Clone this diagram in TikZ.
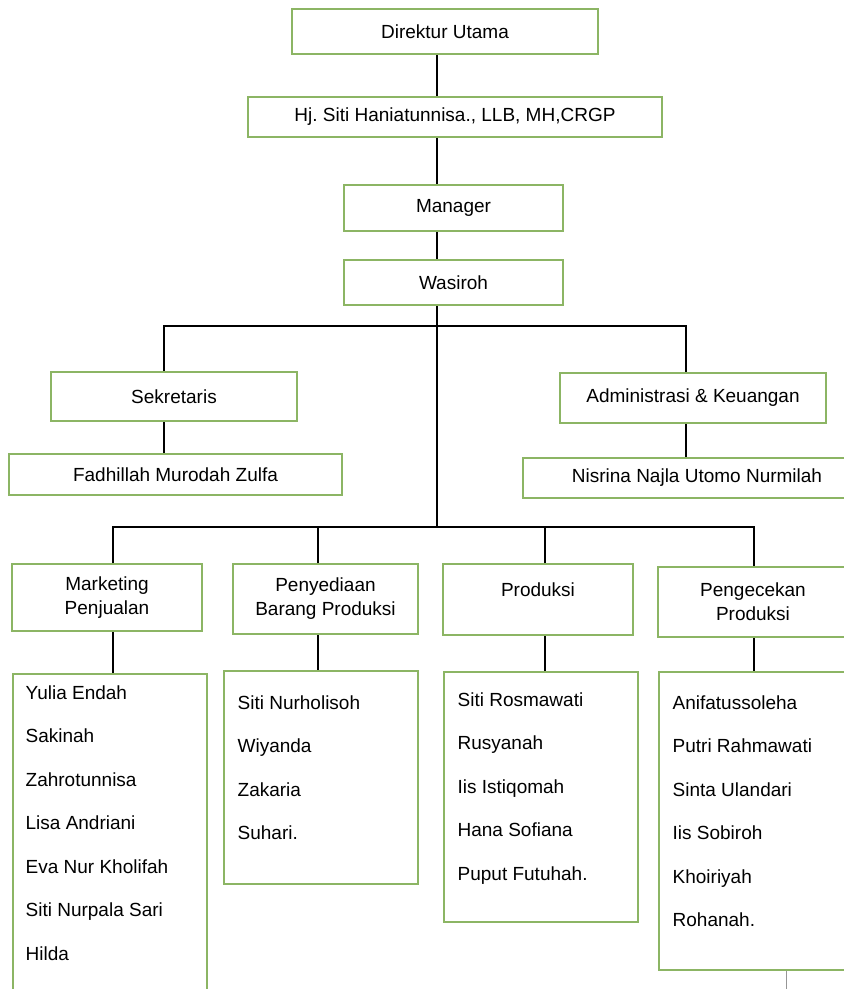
\documentclass[tikz,border=0pt]{standalone}
\usepackage{fontspec}
\setmainfont{Liberation Sans}
\frenchspacing
\definecolor{verde}{RGB}{140,181,100}
\definecolor{gris}{RGB}{150,150,150}

\begin{document}
\begin{tikzpicture}[   % opciones por defecto
      x=1pt, y=-1pt,     % un punto por pixel, y hacia abajo
      line width=1.3pt,  % conectores
      draw=black!100,
      font=\fontsize{19}{24}\selectfont
    ]
    \tikzstyle{box}=[draw=verde, line width=2pt, rectangle, inner sep=2pt, align=center];
    \tikzstyle{nama}=[anchor=base west, inner sep=0pt];
    \tikzset{sz/.style 2 args={minimum width=#1pt, minimum height=#2pt}}
    %
    \useasboundingbox (0,0) rectangle (844,989);
    \clip (0,0) rectangle (844,989);
    %
    % cadena de mando
    \node [box, sz={306}{45}] (dirut) at (445,31.5)  {Direktur Utama};
    \node [box, sz={414}{40}] (hj)    at (455,117)   {Hj. Siti Haniatunnisa., LLB, MH,CRGP};
    \node [box, sz={219}{46}] (man)   at (453.5,208) {Manager};
    \node [box, sz={219}{45}] (was)   at (453.5,282.5) {Wasiroh};
    %
    % staf
    \node [box, sz={246}{49}] (sek) at (174,396.5) {Sekretaris};
    \node [box, sz={333}{41}] (fad) at (175.5,474.5) {Fadhillah Murodah Zulfa};
    \node [box, sz={266}{50}] (adm) at (693,398)   {Administrasi \& Keuangan};
    \node [box, sz={348}{40}] (nis) at (697,478)   {Nisrina Najla Utomo Nurmilah};
    %
    % bagian
    \node [box, sz={190}{67}] (mkt) at (107,597.5) {Marketing\\Penjualan};
    \node [box, sz={185}{70}] (pny) at (325.5,599) {Penyediaan\\Barang Produksi};
    \node [box, sz={190}{71}, text depth=20pt] (pro) at (538,599.5) {Produksi};
    \node [box, sz={190}{70}] (pgk) at (753,602)   {Pengecekan\\Produksi};
    %
    % cajas de nombres
    \node [box, sz={194}{340}, anchor=north west] (mlist)  at (12,673)  {};
    \node [box, sz={194}{213}, anchor=north west] (plist)  at (223,670) {};
    \node [box, sz={194}{250}, anchor=north west] (prlist) at (443,671) {};
    \node [box, sz={190}{298}, anchor=north west] (pglist) at (658,671) {};
    %
    \foreach \n [count=\i] in {Yulia Endah, Sakinah, Zahrotunnisa, Lisa Andriani,
        Eva Nur Kholifah, Siti Nurpala Sari, Hilda}
      \node [nama] (mk\i) at (25,{699+43.5*(\i-1)}) {\n};
    \foreach \n [count=\i] in {Siti Nurholisoh, Wiyanda, Zakaria, Suhari.}
      \node [nama] (pn\i) at (237,{709+43.5*(\i-1)}) {\n};
    \foreach \n [count=\i] in {Siti Rosmawati, Rusyanah, Iis Istiqomah, Hana Sofiana,
        Puput Futuhah.}
      \node [nama] (pr\i) at (457,{706+43.5*(\i-1)}) {\n};
    \foreach \n [count=\i] in {Anifatussoleha, Putri Rahmawati, Sinta Ulandari,
        Iis Sobiroh, Khoiriyah, Rohanah.}
      \node [nama] (pg\i) at (672,{709+43.5*(\i-1)}) {\n};
    %
    % ejes de los conectores
    \coordinate (tr)   at (437,0);
    \coordinate (bar1) at (437,326);
    \coordinate (bar2) at (437,527);
    \coordinate (cs)   at (164,0);
    \coordinate (ca)   at (686,0);
    \coordinate (c1)   at (113,0);
    \coordinate (c2)   at (318,0);
    \coordinate (c3)   at (545,0);
    \coordinate (c4)   at (754,0);
    %
    % conexiones
    \draw (dirut.south -| tr) -- (hj.north -| tr);
    \draw (hj.south -| tr) -- (man.north -| tr);
    \draw (man.south -| tr) -- (was.north -| tr);
    \draw (was.south -| tr) -- (bar2);
    \draw (sek.north -| cs) |- (bar1) -| (adm.north -| ca);
    \draw (sek.south -| cs) -- (fad.north -| cs);
    \draw (adm.south -| ca) -- (nis.north -| ca);
    \draw (mkt.north -| c1) |- (bar2) -| (pgk.north -| c4);
    \draw (pny.north -| c2) -- (c2 |- bar2);
    \draw (pro.north -| c3) -- (c3 |- bar2);
    \foreach \a/\b/\c in {mkt/mlist/c1, pny/plist/c2, pro/prlist/c3, pgk/pglist/c4}
      \draw (\a.south -| \c) -- (\b.north -| \c);
    %
    % resto de una linea cortada abajo
    \coordinate (cola) at (786,989);
    \draw [gris, line width=1pt] (pglist.south -| cola) -- (cola);
  \end{tikzpicture}
\end{document}
